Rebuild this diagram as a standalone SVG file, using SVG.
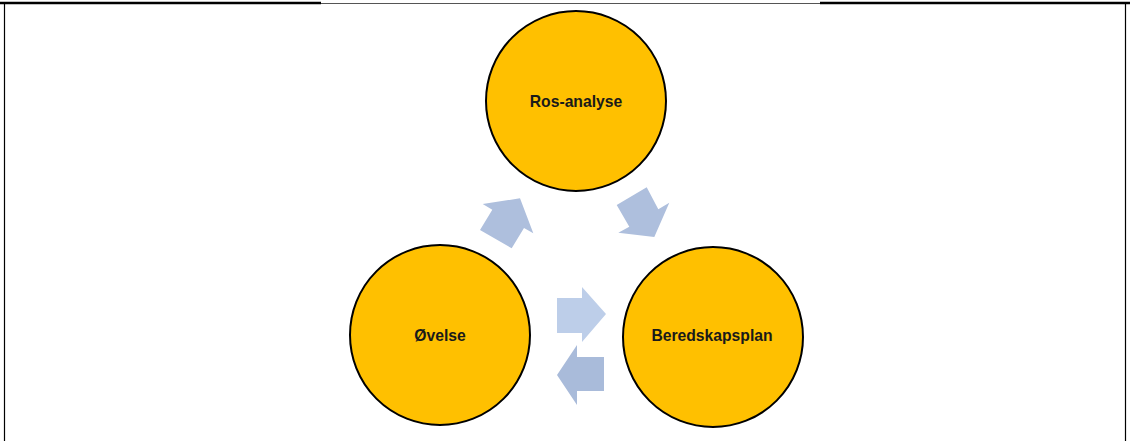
<svg xmlns="http://www.w3.org/2000/svg" width="1130" height="441" viewBox="0 0 1130 441">
<style>
.node circle{fill:#FFC000;stroke:#000;stroke-width:2}
.node text{font-family:"Liberation Sans",Arial,sans-serif;font-weight:bold;font-size:15.7px;fill:#1a1a1a;text-anchor:middle}
.frame{stroke:#000;fill:none}
</style>
<rect width="1130" height="441" fill="#fff"/>
<g id="frame">
<line class="frame" x1="0" y1="3" x2="321" y2="3" stroke-width="2.5"/>
<line x1="321" y1="3.5" x2="820" y2="3.5" stroke="#555" stroke-width="1"/>
<line class="frame" x1="820" y1="3" x2="1130" y2="3" stroke-width="2.5"/>
<line class="frame" x1="4.5" y1="2" x2="4.5" y2="441" stroke-width="1.2"/>
<line class="frame" x1="1125.5" y1="2" x2="1125.5" y2="441" stroke-width="1.2"/>
</g>
<g id="connectors">
<polygon points="480,230 492.3,209.7 482.7,204 520,198.3 533.3,233.3 524,228 511.7,248.3" fill="#AEBFDD"/>
<polygon points="616.7,205 646.7,187.3 658.3,209.3 669.3,202.7 654.3,237 618.3,232.7 629.3,226.7" fill="#AEBFDD"/>
<polygon points="557,298 582,298 582,287 606,314 582,342 582,333 557,333" fill="#BDCEE9"/>
<polygon points="604,357 577,357 577,345 557,375 577,405 577,391 604,391" fill="#A9BBDA"/>
</g>
<g id="ros-analyse" class="node">
<circle cx="576" cy="101" r="90"/>
<text x="576" y="107">Ros-analyse</text>
</g>
<g id="ovelse" class="node">
<circle cx="440" cy="335" r="90"/>
<text x="440" y="341">Øvelse</text>
</g>
<g id="beredskapsplan" class="node">
<circle cx="713" cy="337" r="90"/>
<text x="712" y="341">Beredskapsplan</text>
</g>
</svg>
